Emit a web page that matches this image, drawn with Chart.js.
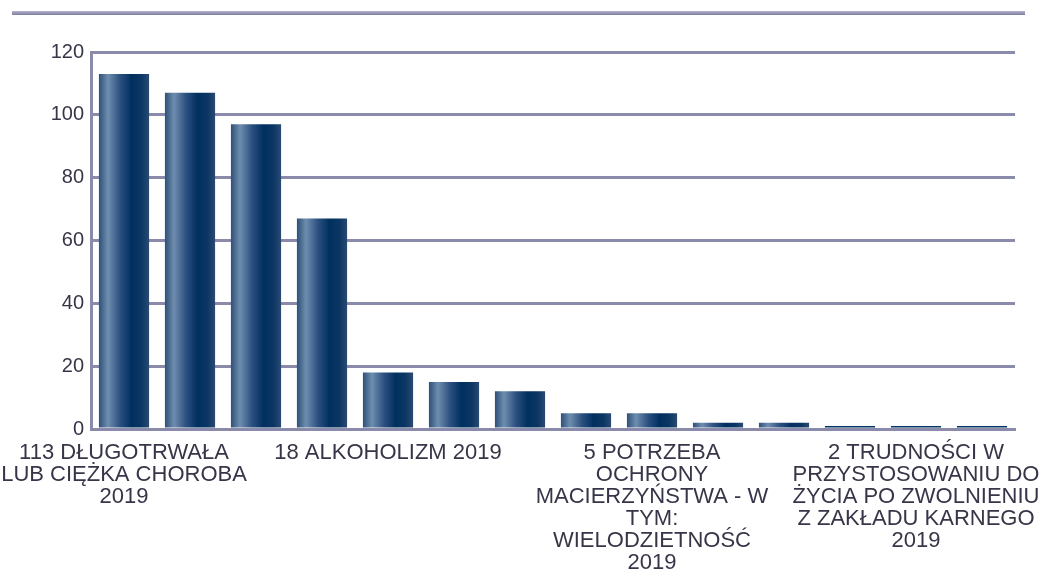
<!DOCTYPE html>
<html>
<head>
<meta charset="utf-8">
<script src="https://cdn.jsdelivr.net/npm/chart.js@4"></script>
<style>
    html, body { margin: 0; padding: 0; background: #fff; }
    #wrap { position: relative; width: 1039px; height: 575px; }
    #topline {
        position: absolute; left: 12px; top: 11px; width: 1013px; height: 4px;
        background: linear-gradient(#b4b4cc, #7c7ca2);
    }
</style>
</head>
<body>
<div id="wrap">
    <div id="topline"></div>
    <canvas id="chart" width="1039" height="575"></canvas>
</div>
<script>
// kategorie (widoczne są tylko co czwarte etykiety)
const categories = [
    ['113 DŁUGOTRWAŁA', 'LUB CIĘŻKA CHOROBA', '2019'],
    '', '', '',
    ['18 ALKOHOLIZM 2019'],
    '', '', '',
    ['5 POTRZEBA', 'OCHRONY', 'MACIERZYŃSTWA - W', 'TYM:', 'WIELODZIETNOŚĆ', '2019'],
    '', '', '',
    ['2 TRUDNOŚCI W', 'PRZYSTOSOWANIU DO', 'ŻYCIA PO ZWOLNIENIU', 'Z ZAKŁADU KARNEGO', '2019'],
    ''
];
const values = [113, 107, 97, 67, 18, 15, 12, 5, 5, 2, 2, 0, 0, 0];
const yTicks = [0, 20, 40, 60, 80, 100, 120];

const gridColor = '#8a8aaa';
const textColor = '#363648';
const barFraction = 0.76;

// poziomy gradient "walca" dla każdego słupka
function barGradient(c) {
    const chart = c.chart;
    const xs = chart.scales && chart.scales.x;
    if (!xs || !chart.chartArea || c.type !== 'data') return '#1d4270';
    if (!values[c.dataIndex]) return '#033464';
    const cx = xs.getPixelForValue(c.dataIndex);
    const half = xs.width / categories.length * barFraction / 2;
    const g = chart.ctx.createLinearGradient(cx - half, 0, cx + half, 0);
    g.addColorStop(0, '#2e5079');
    g.addColorStop(0.18, '#6f8eae');
    g.addColorStop(0.42, '#2c5080');
    g.addColorStop(0.65, '#00305f');
    g.addColorStop(0.85, '#0c3664');
    g.addColorStop(1, '#2a4a72');
    return g;
}

new Chart(document.getElementById('chart'), {
    type: 'bar',
    data: {
        labels: categories,
        datasets: [{
            data: values,
            backgroundColor: barGradient,
            borderWidth: 0,
            minBarLength: 3,
            categoryPercentage: 1,
            barPercentage: barFraction
        }]
    },
    options: {
        responsive: false,
        animation: false,
        events: [],
        layout: { padding: { top: 52, right: 24, left: 0, bottom: 0 } },
        plugins: {
            legend: { display: false },
            tooltip: { enabled: false },
            title: { display: false }
        },
        scales: {
            x: {
                grid: { display: false },
                border: { display: true, color: gridColor, width: 3 },
                ticks: {
                    autoSkip: false,
                    maxRotation: 0,
                    minRotation: 0,
                    padding: 5,
                    color: textColor,
                    font: { family: "'Liberation Sans', Arial, sans-serif", size: 22, lineHeight: 1.0 }
                },
                afterFit: (scale) => {
                    scale.height = 146;
                    scale.paddingLeft = 0;
                    scale.paddingRight = 0;
                }
            },
            y: {
                min: 0,
                max: 120,
                afterBuildTicks: (scale) => { scale.ticks = yTicks.map(v => ({ value: v })); },
                grid: { color: gridColor, lineWidth: 3, drawTicks: false },
                border: { display: true, color: gridColor, width: 3 },
                ticks: {
                    padding: 7,
                    color: textColor,
                    font: { family: "'Liberation Sans', Arial, sans-serif", size: 20 }
                },
                afterFit: (scale) => { scale.width = 91; }
            }
        }
    }
});
</script>
</body>
</html>
